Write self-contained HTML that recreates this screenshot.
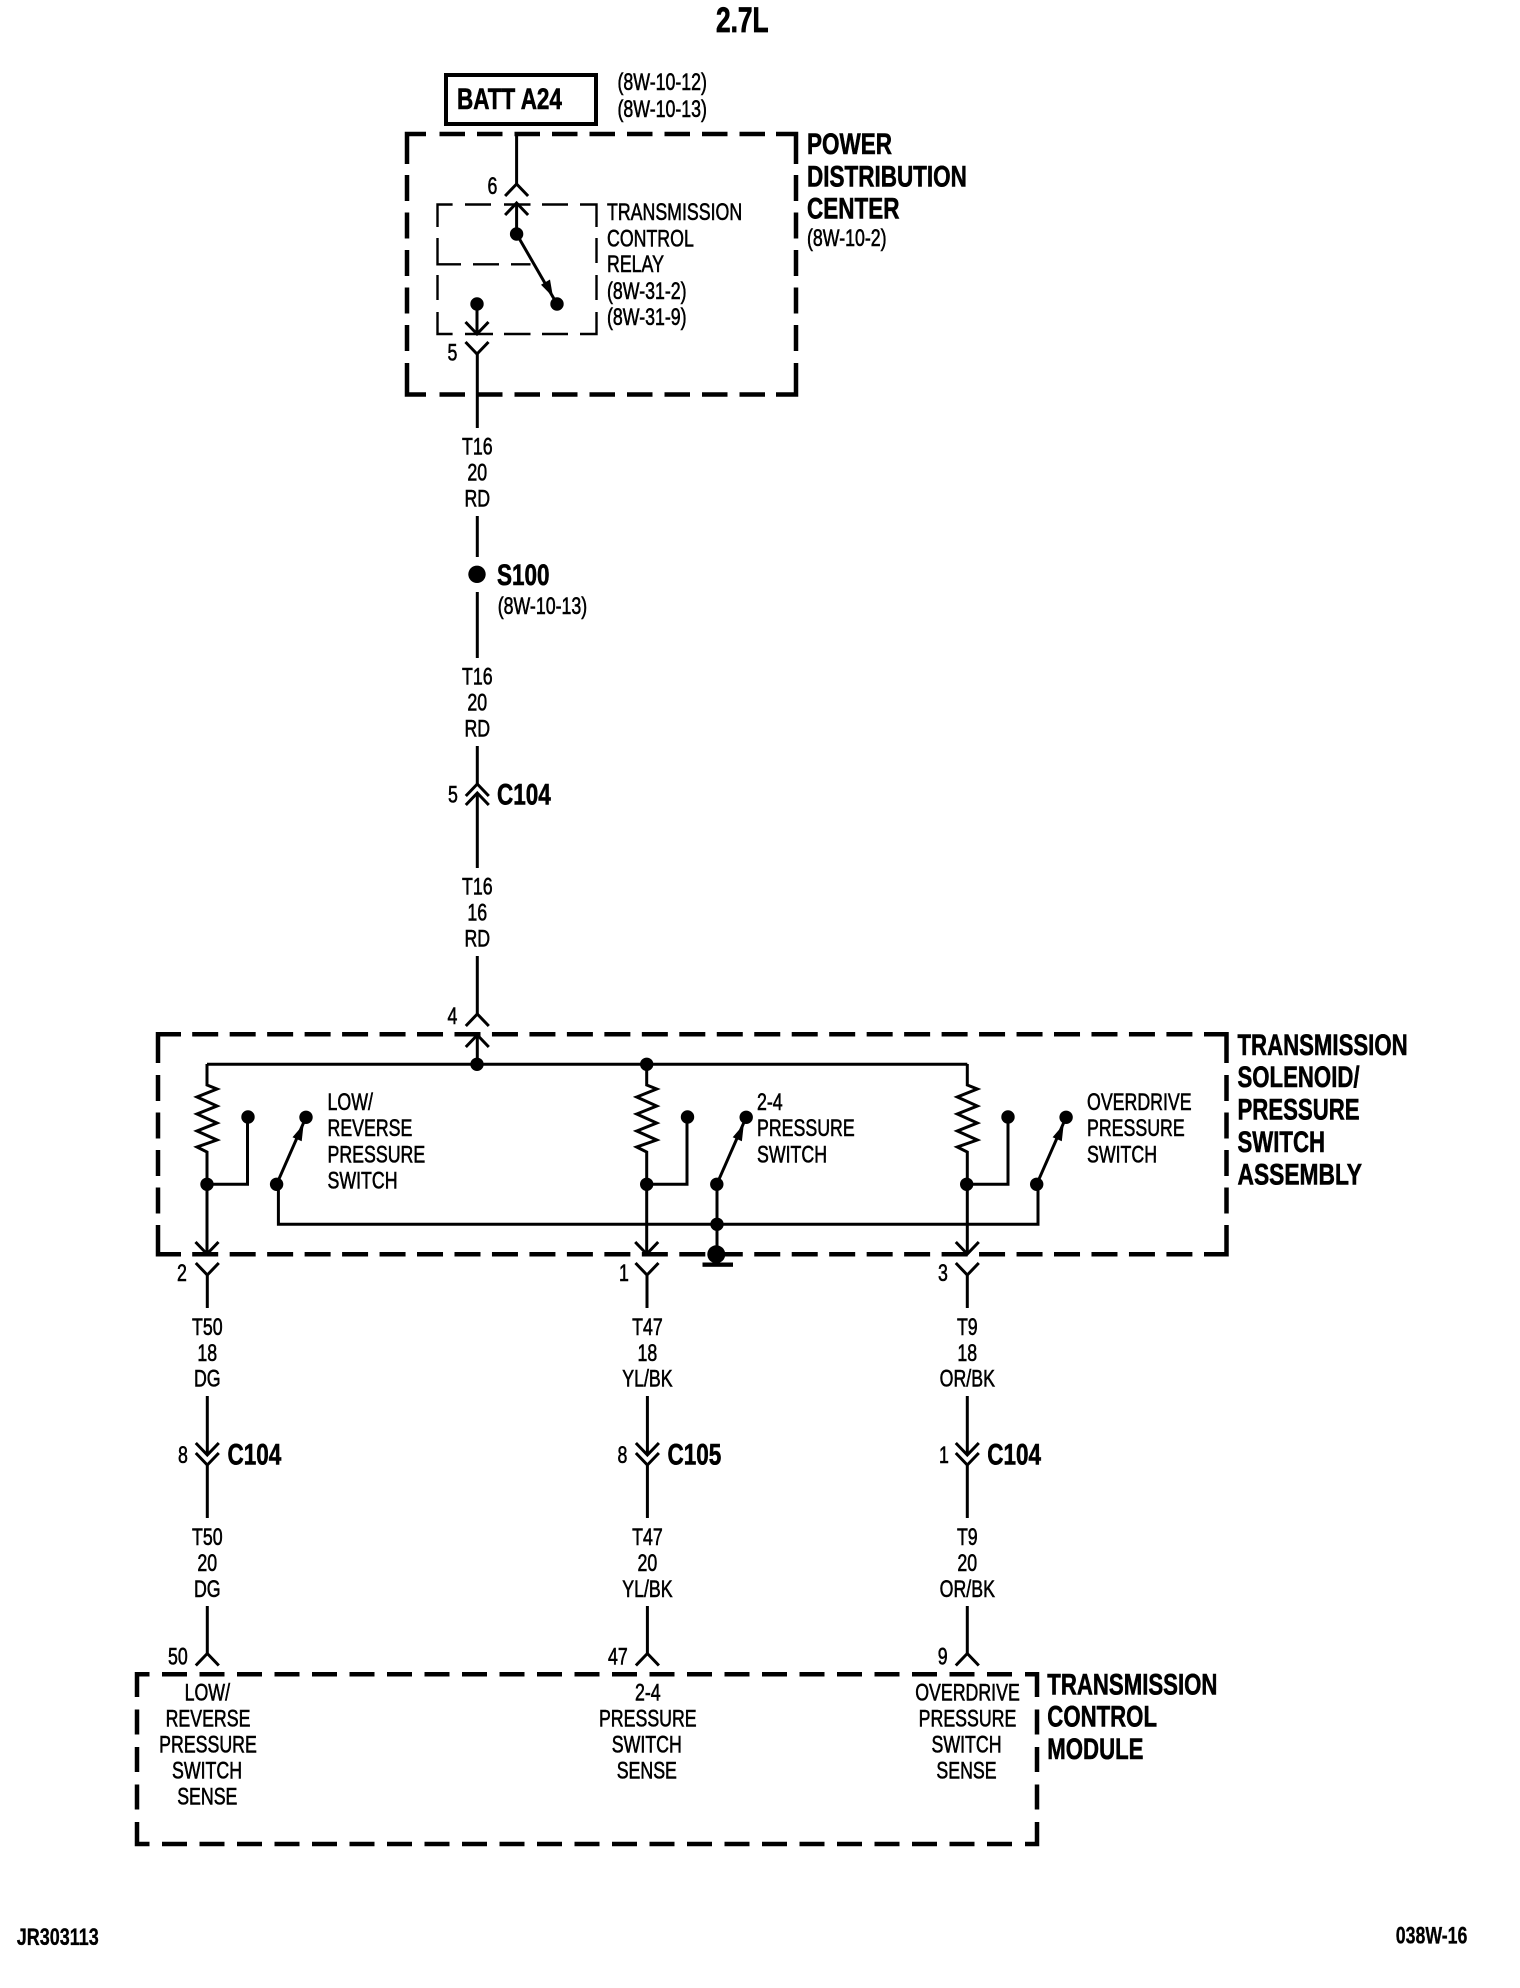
<!DOCTYPE html>
<html lang="en">
<head>
<meta charset="utf-8">
<title>2.7L Transmission Control Wiring Diagram</title>
<style>
html,body{margin:0;padding:0;background:#fff}
svg{display:block}
text{fill:#000;font-family:"Liberation Sans",Arial,sans-serif}
.r{font-size:24px;stroke:#000;stroke-width:.6px}
.b{font-size:30px;font-weight:bold;stroke:#000;stroke-width:.6px}
.t{font-size:35px;font-weight:bold;stroke:#000;stroke-width:.8px}
.f{font-size:24px;font-weight:bold;stroke:#000;stroke-width:.3px}
.c{text-anchor:middle}
.w{fill:none;stroke:#000;stroke-width:3}
.d{fill:none;stroke:#000;stroke-width:4.5}
.thin{fill:none;stroke:#000;stroke-width:2.4}
</style>
</head>
<body>
<svg xmlns="http://www.w3.org/2000/svg" width="1520" height="1988" viewBox="0 0 1520 1988">
<rect width="1520" height="1988" fill="#fff"/>
<defs>
  <path id="up" class="w" d="M-11.5 12L0 0L11.5 12"/>
  <path id="dn" class="w" d="M-11.5 -12L0 0L11.5 -12"/>
  <path id="res" class="w" d="M0 1064V1085L10 1089L-10 1097L10 1106L-10 1114L10 1123L-10 1131L10 1140L-10 1147L0 1152V1254"/>
  <g id="sw">
    <path class="w" d="M0 0L29.4 -67"/>
    <circle cx="0" cy="0" r="6.7"/>
    <circle cx="29.4" cy="-67" r="6.7"/>
    <path d="M27 -60L25.1 -43L15.9 -47Z"/>
  </g>
</defs>

<!-- Title -->
<text class="t" transform="translate(716 32) scale(.75 1)">2.7L</text>

<!-- BATT -->
<rect x="446" y="75" width="150" height="49" fill="none" stroke="#000" stroke-width="4"/>
<text class="b" transform="translate(457 109) scale(.75 1)">BATT A24</text>
<text class="r" transform="translate(617.5 90) scale(.74 1)">(8W-10-12)</text>
<text class="r" transform="translate(617.5 117) scale(.74 1)">(8W-10-13)</text>

<!-- PDC box -->
<path class="d" d="M426 134H407V164M776 134H796V164M426 394.5H407V363M776 394.5H796V363"/>
<path class="d" d="M439.5 134H765" stroke-dasharray="25.5 12"/>
<path class="d" d="M439.5 394.5H765" stroke-dasharray="25.5 12"/>
<path class="d" d="M407 175V352" stroke-dasharray="26 11.5"/>
<path class="d" d="M796 175V352" stroke-dasharray="26 11.5"/>
<text class="b" transform="translate(807 154) scale(.75 1)">POWER</text>
<text class="b" transform="translate(807 186.5) scale(.75 1)">DISTRIBUTION</text>
<text class="b" transform="translate(807 218.5) scale(.75 1)">CENTER</text>
<text class="r" transform="translate(807 246) scale(.74 1)">(8W-10-2)</text>

<!-- Relay -->
<path class="thin" d="M437.5 227V204.5H452.6M465 204.5H491M504 204.5H530.5M542 204.5H568M580 204.5H596.5V227M437.5 238V264.3H461M473 264.3H499M511 264.3H530.5M437.5 275V300M437.5 312V334H452.6M465 334H493M504 334H530.5M542 334H568M580 334H596.5V312M596.5 238V263M596.5 275V300"/>
<path class="w" d="M516.6 134V184"/>
<use href="#up" x="516.6" y="184"/>
<use href="#up" x="516.6" y="203"/>
<path class="w" d="M516.6 203V234L557 304"/>
<circle cx="516.6" cy="234" r="6.7"/>
<circle cx="557" cy="304" r="6.7"/>
<path d="M553 297L550 279.5L541 284.7Z"/>
<circle cx="477" cy="304" r="6.7"/>
<path class="w" d="M477 304V334"/>
<use href="#dn" x="477" y="334"/>
<use href="#dn" x="477" y="354"/>
<path class="w" d="M477.3 354V428"/>
<text class="r" transform="translate(487.5 194) scale(.74 1)">6</text>
<text class="r" transform="translate(447.5 360.5) scale(.74 1)">5</text>
<text class="r" transform="translate(607 220) scale(.74 1)">TRANSMISSION</text>
<text class="r" transform="translate(607 246.5) scale(.74 1)">CONTROL</text>
<text class="r" transform="translate(607 272) scale(.74 1)">RELAY</text>
<text class="r" transform="translate(607 299) scale(.74 1)">(8W-31-2)</text>
<text class="r" transform="translate(607 325) scale(.74 1)">(8W-31-9)</text>

<!-- Main feed -->
<text class="r c" transform="translate(477.3 454.3) scale(.74 1)">T16</text>
<text class="r c" transform="translate(477.3 480.7) scale(.74 1)">20</text>
<text class="r c" transform="translate(477.3 506.7) scale(.74 1)">RD</text>
<path class="w" d="M477.3 516V557"/>
<circle cx="477" cy="574.3" r="8.7"/>
<path class="w" d="M477.3 592V658"/>
<text class="b" transform="translate(497 585) scale(.75 1)">S100</text>
<text class="r" transform="translate(497.7 614) scale(.74 1)">(8W-10-13)</text>
<text class="r c" transform="translate(477.3 684.3) scale(.74 1)">T16</text>
<text class="r c" transform="translate(477.3 710.7) scale(.74 1)">20</text>
<text class="r c" transform="translate(477.3 736.7) scale(.74 1)">RD</text>
<path class="w" d="M477.3 746V784"/>
<use href="#up" x="477.3" y="784"/>
<use href="#up" x="477.3" y="793"/>
<path class="w" d="M477.3 793V868"/>
<text class="r" transform="translate(448 802.7) scale(.74 1)">5</text>
<text class="b" transform="translate(497 804.5) scale(.75 1)">C104</text>
<text class="r c" transform="translate(477.3 894.3) scale(.74 1)">T16</text>
<text class="r c" transform="translate(477.3 920.7) scale(.74 1)">16</text>
<text class="r c" transform="translate(477.3 946.7) scale(.74 1)">RD</text>
<path class="w" d="M477.3 956V1014"/>
<use href="#up" x="477.3" y="1014"/>
<text class="r" transform="translate(447.5 1024) scale(.74 1)">4</text>

<!-- Solenoid box -->
<path class="d" d="M181 1034.3H158V1063M1204 1034.3H1226.5V1063M181 1254.3H158V1225M1204 1254.3H1226.5V1225"/>
<path class="d" d="M192.2 1034.3H1192.4" stroke-dasharray="26 11.47"/>
<path class="d" d="M192.2 1254.3H1192.4" stroke-dasharray="26 11.47"/>
<path class="d" d="M158 1075V1213.5" stroke-dasharray="26 11.5"/>
<path class="d" d="M1226.5 1075V1213.5" stroke-dasharray="26 11.5"/>
<use href="#up" x="477.3" y="1035"/>
<path class="w" d="M477.3 1035V1064"/>
<path class="w" d="M207 1064.3H967.3"/>
<circle cx="477" cy="1064.3" r="6.7"/>
<circle cx="646.7" cy="1064.3" r="6.7"/>
<use href="#res" x="207"/>
<use href="#res" x="646.7"/>
<use href="#res" x="967.3"/>
<use href="#dn" x="207" y="1254"/>
<use href="#dn" x="646.7" y="1254"/>
<use href="#dn" x="967.3" y="1254"/>
<!-- branches -->
<path class="w" d="M207 1184.3H247.5V1117"/>
<circle cx="207" cy="1184.3" r="6.7"/><circle cx="248" cy="1117" r="6.7"/>
<path class="w" d="M646.7 1184.3H687V1117"/>
<circle cx="646.7" cy="1184.3" r="6.7"/><circle cx="687.5" cy="1117" r="6.7"/>
<path class="w" d="M967 1184.3H1008V1117"/>
<circle cx="966.7" cy="1184.3" r="6.7"/><circle cx="1008" cy="1117" r="6.7"/>
<use href="#sw" x="276.6" y="1184.3"/>
<use href="#sw" x="716.8" y="1184.3"/>
<use href="#sw" x="1036.7" y="1184.3"/>
<path class="w" d="M278.4 1184V1224.3H1038V1184"/>
<path class="w" d="M717 1184V1254"/>
<circle cx="717" cy="1224.3" r="6.7"/>
<circle cx="716.3" cy="1254.3" r="9"/>
<rect x="702.5" y="1262.5" width="30.5" height="4.3"/>
<text class="r" transform="translate(327.5 1110) scale(.74 1)">LOW/</text>
<text class="r" transform="translate(327.5 1136) scale(.74 1)">REVERSE</text>
<text class="r" transform="translate(327.5 1162.5) scale(.74 1)">PRESSURE</text>
<text class="r" transform="translate(327.5 1188.5) scale(.74 1)">SWITCH</text>
<text class="r" transform="translate(757 1110) scale(.74 1)">2-4</text>
<text class="r" transform="translate(757 1136) scale(.74 1)">PRESSURE</text>
<text class="r" transform="translate(757 1162.5) scale(.74 1)">SWITCH</text>
<text class="r" transform="translate(1087 1110) scale(.74 1)">OVERDRIVE</text>
<text class="r" transform="translate(1087 1136) scale(.74 1)">PRESSURE</text>
<text class="r" transform="translate(1087 1162.5) scale(.74 1)">SWITCH</text>
<text class="b" transform="translate(1237.5 1055) scale(.74 1)">TRANSMISSION</text>
<text class="b" transform="translate(1237.5 1087) scale(.74 1)">SOLENOID/</text>
<text class="b" transform="translate(1237.5 1119.5) scale(.74 1)">PRESSURE</text>
<text class="b" transform="translate(1237.5 1152) scale(.74 1)">SWITCH</text>
<text class="b" transform="translate(1237.5 1184.5) scale(.76 1)">ASSEMBLY</text>

<!-- Lower wires: column 1 -->
<use href="#dn" x="207.3" y="1275"/>
<path class="w" d="M207.3 1275V1308"/>
<text class="r" transform="translate(177 1281) scale(.74 1)">2</text>
<text class="r c" transform="translate(207.3 1335) scale(.74 1)">T50</text>
<text class="r c" transform="translate(207.3 1361) scale(.74 1)">18</text>
<text class="r c" transform="translate(207.3 1386.5) scale(.74 1)">DG</text>
<path class="w" d="M207.3 1396V1455"/>
<use href="#dn" x="207.3" y="1455"/>
<use href="#dn" x="207.3" y="1465"/>
<path class="w" d="M207.3 1465V1518"/>
<text class="r" transform="translate(178 1463) scale(.74 1)">8</text>
<text class="b" transform="translate(227.5 1464.5) scale(.75 1)">C104</text>
<text class="r c" transform="translate(207.3 1545) scale(.74 1)">T50</text>
<text class="r c" transform="translate(207.3 1571) scale(.74 1)">20</text>
<text class="r c" transform="translate(207.3 1597) scale(.74 1)">DG</text>
<path class="w" d="M207.3 1606V1653"/>
<use href="#up" x="207.3" y="1653.5"/>
<text class="r" transform="translate(168 1664.5) scale(.74 1)">50</text>

<!-- column 2 -->
<use href="#dn" x="647" y="1275"/>
<path class="w" d="M647 1275V1308"/>
<text class="r" transform="translate(619 1281) scale(.74 1)">1</text>
<text class="r c" transform="translate(647.4 1335) scale(.74 1)">T47</text>
<text class="r c" transform="translate(647.4 1361) scale(.74 1)">18</text>
<text class="r c" transform="translate(647.4 1386.5) scale(.74 1)">YL/BK</text>
<path class="w" d="M647.4 1396V1455"/>
<use href="#dn" x="647.4" y="1455"/>
<use href="#dn" x="647.4" y="1465"/>
<path class="w" d="M647.4 1465V1518"/>
<text class="r" transform="translate(617.5 1463) scale(.74 1)">8</text>
<text class="b" transform="translate(667.5 1464.5) scale(.75 1)">C105</text>
<text class="r c" transform="translate(647.4 1545) scale(.74 1)">T47</text>
<text class="r c" transform="translate(647.4 1571) scale(.74 1)">20</text>
<text class="r c" transform="translate(647.4 1597) scale(.74 1)">YL/BK</text>
<path class="w" d="M647.4 1606V1653"/>
<use href="#up" x="647.4" y="1653.5"/>
<text class="r" transform="translate(608 1664.5) scale(.74 1)">47</text>

<!-- column 3 -->
<use href="#dn" x="967.3" y="1275"/>
<path class="w" d="M967.3 1275V1308"/>
<text class="r" transform="translate(938 1281) scale(.74 1)">3</text>
<text class="r c" transform="translate(967.3 1335) scale(.74 1)">T9</text>
<text class="r c" transform="translate(967.3 1361) scale(.74 1)">18</text>
<text class="r c" transform="translate(967.3 1386.5) scale(.74 1)">OR/BK</text>
<path class="w" d="M967.3 1396V1455"/>
<use href="#dn" x="967.3" y="1455"/>
<use href="#dn" x="967.3" y="1465"/>
<path class="w" d="M967.3 1465V1518"/>
<text class="r" transform="translate(939 1463) scale(.74 1)">1</text>
<text class="b" transform="translate(987.2 1464.5) scale(.75 1)">C104</text>
<text class="r c" transform="translate(967.3 1545) scale(.74 1)">T9</text>
<text class="r c" transform="translate(967.3 1571) scale(.74 1)">20</text>
<text class="r c" transform="translate(967.3 1597) scale(.74 1)">OR/BK</text>
<path class="w" d="M967.3 1606V1653"/>
<use href="#up" x="967.3" y="1653.5"/>
<text class="r" transform="translate(937.7 1664.5) scale(.74 1)">9</text>

<!-- TCM box -->
<path class="d" d="M149.5 1674.3H137V1697M1025 1674.3H1037V1697M149.5 1844H137V1822M1025 1844H1037V1822"/>
<path class="d" d="M162 1674.3H1012" stroke-dasharray="25 12.5"/>
<path class="d" d="M162 1844H1012" stroke-dasharray="25 12.5"/>
<path class="d" d="M137 1709.5V1809.5" stroke-dasharray="25 12.5"/>
<path class="d" d="M1037 1709.5V1809.5" stroke-dasharray="25 12.5"/>
<text class="r c" transform="translate(207.3 1700.7) scale(.74 1)">LOW/</text>
<text class="r c" transform="translate(208 1726.5) scale(.74 1)">REVERSE</text>
<text class="r c" transform="translate(208 1752.5) scale(.74 1)">PRESSURE</text>
<text class="r c" transform="translate(207 1778.5) scale(.74 1)">SWITCH</text>
<text class="r c" transform="translate(207.3 1804.5) scale(.74 1)">SENSE</text>
<text class="r c" transform="translate(647.8 1700.7) scale(.74 1)">2-4</text>
<text class="r c" transform="translate(647.8 1726.5) scale(.74 1)">PRESSURE</text>
<text class="r c" transform="translate(646.8 1752.5) scale(.74 1)">SWITCH</text>
<text class="r c" transform="translate(646.8 1778.5) scale(.74 1)">SENSE</text>
<text class="r c" transform="translate(967.5 1700.7) scale(.74 1)">OVERDRIVE</text>
<text class="r c" transform="translate(967.5 1726.5) scale(.74 1)">PRESSURE</text>
<text class="r c" transform="translate(966.5 1752.5) scale(.74 1)">SWITCH</text>
<text class="r c" transform="translate(966.5 1778.5) scale(.74 1)">SENSE</text>
<text class="b" transform="translate(1047.3 1694.3) scale(.74 1)">TRANSMISSION</text>
<text class="b" transform="translate(1047.3 1726.7) scale(.74 1)">CONTROL</text>
<text class="b" transform="translate(1047.3 1759) scale(.74 1)">MODULE</text>

<!-- Footer -->
<text class="f" transform="translate(16.7 1945) scale(.75 1)">JR303113</text>
<text class="f" transform="translate(1395.7 1943.5) scale(.74 1)">038W-16</text>
</svg>
</body>
</html>
